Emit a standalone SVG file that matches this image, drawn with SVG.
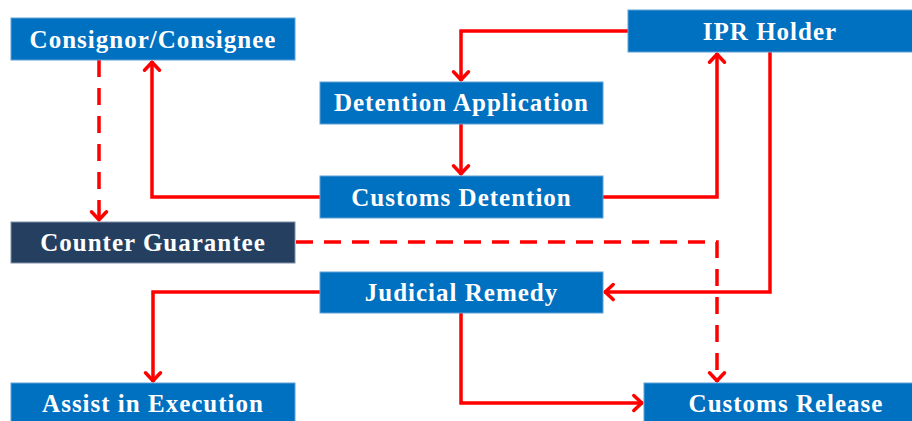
<svg xmlns="http://www.w3.org/2000/svg" width="912" height="421" viewBox="0 0 912 421">
  <style>
    .box { fill: #0070C0; stroke: #5EA1D8; stroke-width: 1; }
    .dark { fill: #243F60; stroke: #7F8FA6; stroke-width: 1; }
    .lbl { fill: #FFFFFF; font-family: "Liberation Serif", "Times New Roman", serif; font-weight: bold; font-size: 25px; letter-spacing: 1px; text-anchor: middle; }
    .flow { fill: none; stroke: #FF0000; stroke-width: 3.5; stroke-linejoin: miter; }
    .dash { stroke-dasharray: 17 11; }
  </style>
  <defs>
    <marker id="arrow" markerUnits="userSpaceOnUse" viewBox="-12 -10 16 20" markerWidth="16" markerHeight="20" refX="1.2" refY="0" orient="auto">
      <path d="M-8,-7.5 L0,0 L-8,7.5" fill="none" stroke="#FF0000" stroke-width="3.5" stroke-linecap="round" stroke-linejoin="round"/>
    </marker>
  </defs>

  <g id="connectors">
    <!-- IPR Holder to Detention Application -->
    <path class="flow" d="M628,31 H461 V81" marker-end="url(#arrow)"/>
    <!-- Detention Application to Customs Detention -->
    <path class="flow" d="M461,124 V175" marker-end="url(#arrow)"/>
    <!-- Customs Detention to Consignor/Consignee -->
    <path class="flow" d="M320,197 H152 V61" marker-end="url(#arrow)"/>
    <!-- Customs Detention to IPR Holder -->
    <path class="flow" d="M603,197 H717 V53" marker-end="url(#arrow)"/>
    <!-- IPR Holder to Judicial Remedy -->
    <path class="flow" d="M770,52 V292 H604" marker-end="url(#arrow)"/>
    <!-- Judicial Remedy to Assist in Execution -->
    <path class="flow" d="M320,292 H153 V382" marker-end="url(#arrow)"/>
    <!-- Judicial Remedy to Customs Release -->
    <path class="flow" d="M461,313 V403 H643" marker-end="url(#arrow)"/>
    <!-- Consignor/Consignee to Counter Guarantee -->
    <path class="flow dash" d="M99,60 V221" marker-end="url(#arrow)"/>
    <!-- Counter Guarantee to Customs Release -->
    <path class="flow dash" d="M296,242 H717 V382" marker-end="url(#arrow)"/>
  </g>

  <g id="consignor">
    <rect class="box" x="11" y="18" width="284" height="42"/>
    <text class="lbl" x="153" y="48">Consignor/Consignee</text>
  </g>
  <g id="ipr-holder">
    <rect class="box" x="628" y="10" width="290" height="42"/>
    <text class="lbl" x="770" y="40">IPR Holder</text>
  </g>
  <g id="detention-application">
    <rect class="box" x="320" y="82" width="283" height="42"/>
    <text class="lbl" x="461.5" y="111">Detention Application</text>
  </g>
  <g id="customs-detention">
    <rect class="box" x="320" y="176" width="283" height="42"/>
    <text class="lbl" x="461.5" y="206">Customs Detention</text>
  </g>
  <g id="counter-guarantee">
    <rect class="dark" x="11" y="222" width="284" height="41"/>
    <text class="lbl" x="153" y="251">Counter Guarantee</text>
  </g>
  <g id="judicial-remedy">
    <rect class="box" x="320" y="272" width="283" height="41"/>
    <text class="lbl" x="461.5" y="301">Judicial Remedy</text>
  </g>
  <g id="assist-in-execution">
    <rect class="box" x="11" y="383" width="284" height="44"/>
    <text class="lbl" x="153" y="412">Assist in Execution</text>
  </g>
  <g id="customs-release">
    <rect class="box" x="644" y="383" width="274" height="44"/>
    <text class="lbl" x="786" y="412">Customs Release</text>
  </g>
</svg>
